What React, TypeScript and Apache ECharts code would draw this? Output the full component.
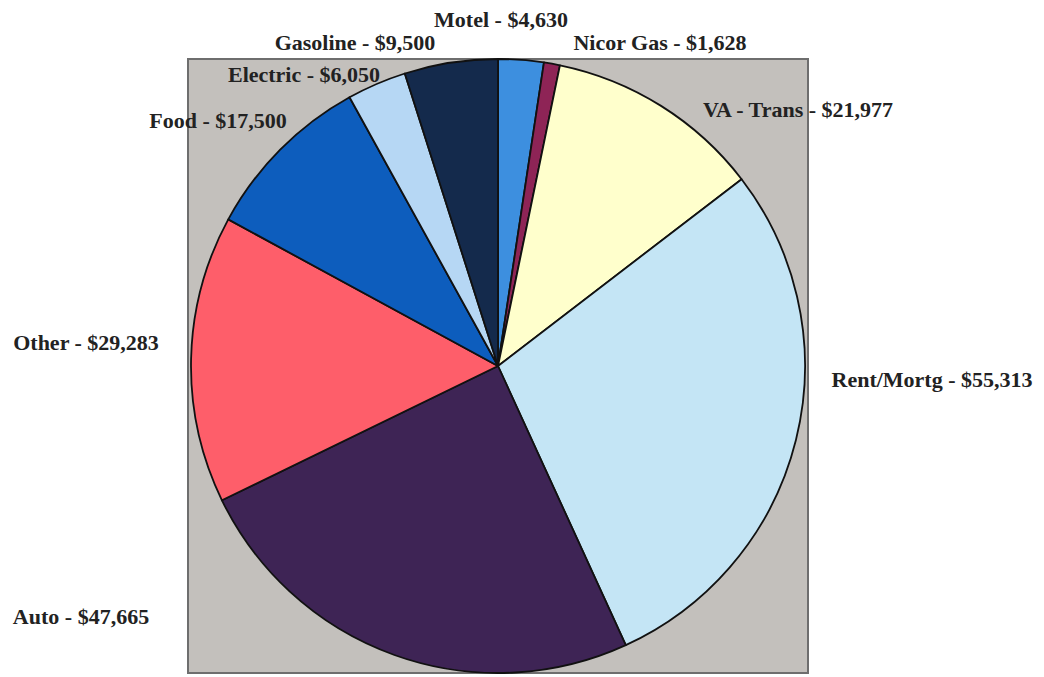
import React, { useEffect, useRef } from "react";
import * as echarts from "echarts";

const categories = ["Motel", "Nicor Gas", "VA - Trans", "Rent/Mortg", "Auto", "Other", "Food", "Electric", "Gasoline"];
const values = [4630, 1628, 21977, 55313, 47665, 29283, 17500, 6050, 9500];
const colors = ["#3d8fdf", "#8e2456", "#ffffcc", "#c4e5f5", "#3e2455", "#fe5e6a", "#0d5dbd", "#b6d7f4", "#142a4c"];
const labelPos: [number, number][] = [
  [501, 19],
  [660, 42],
  [798, 109],
  [932, 379],
  [81, 616],
  [86, 342],
  [218, 120],
  [304, 74],
  [355, 42],
];

export default function App() {
  const ref = useRef<HTMLDivElement>(null);
  useEffect(() => {
    if (!ref.current) return;
    const chart = echarts.init(ref.current, undefined, { renderer: "svg" });
    chart.setOption({
      animation: false,
      backgroundColor: "#ffffff",
      graphic: [
        {
          type: "rect",
          z: -10,
          shape: { x: 188, y: 59, width: 620, height: 614 },
          style: { fill: "#c3c0bc", stroke: "#6e6e6e", lineWidth: 2 },
          silent: true,
        },
      ],
      series: [
        {
          type: "pie",
          center: [498, 366],
          radius: 307,
          startAngle: 90,
          clockwise: true,
          data: categories.map((name, i) => ({
            name,
            value: values[i],
            itemStyle: { color: colors[i] },
          })),
          itemStyle: { borderColor: "#111111", borderWidth: 1.8 },
          label: {
            show: true,
            position: "outside",
            alignTo: "none",
            overflow: "none",
            width: 400,
            formatter: (p: any) => `${p.name} - $${Number(p.value).toLocaleString("en-US")}`,
            fontFamily: "Liberation Serif",
            fontWeight: "bold",
            fontSize: 22,
            color: "#222222",
          },
          labelLine: { show: false },
          labelLayout: (params: any) => {
            const pos = labelPos[params.dataIndex];
            return { x: pos[0], y: pos[1], align: "center", verticalAlign: "middle", hideOverlap: false };
          },
          emphasis: { disabled: true },
        },
      ],
    });
    return () => chart.dispose();
  }, []);
  return (
    <div
      ref={ref}
      style={{ position: "fixed", left: 0, top: 0, width: 1044, height: 677 }}
    />
  );
}
